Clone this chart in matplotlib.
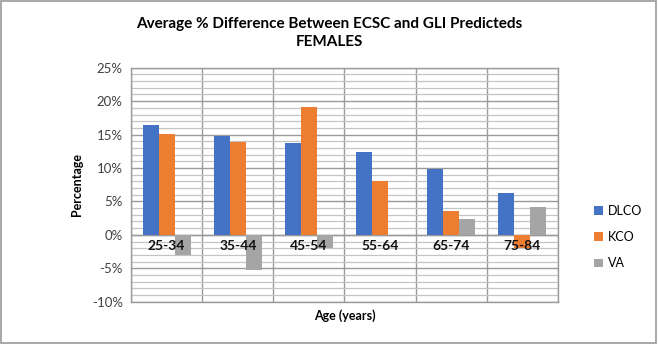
import numpy as np
import matplotlib
matplotlib.use("Agg")
import matplotlib.pyplot as plt
from matplotlib.ticker import MultipleLocator, FuncFormatter
from matplotlib.patches import Rectangle

ages = ["25-34", "35-44", "45-54", "55-64", "65-74", "75-84"]
dlco = [16.4, 14.8, 13.7, 12.4, 9.8, 6.3]
kco = [15.1, 13.9, 19.1, 8.0, 3.5, -2.0]
va = [-3.0, -5.3, -2.0, 0.0, 2.4, 4.2]

plt.rcParams['font.family'] = ['Lato', 'DejaVu Sans']

fig = plt.figure(figsize=(6.58, 3.44), dpi=100)
ax = fig.add_axes([131/658, 1-301.7/344, (558-131)/658, (301.7-67.7)/344])

x = np.arange(len(ages))
w = 0.225
ax.bar(x - w, dlco, w, color='#4472C4', label='DLCO', zorder=3)
ax.bar(x, kco, w, color='#ED7D31', label='KCO', zorder=3)
ax.bar(x + w, va, w, color='#A5A5A5', label='VA', zorder=3)

ax.set_xlim(-0.5, len(ages) - 0.5)
ax.set_ylim(-10, 25)
ax.yaxis.set_major_locator(MultipleLocator(5))
ax.yaxis.set_minor_locator(MultipleLocator(1))
ax.yaxis.set_major_formatter(FuncFormatter(lambda v, p: f"{v:.0f}%"))
ax.grid(axis='y', which='major', color='#9a9a9a', lw=1.0, zorder=1)
ax.grid(axis='y', which='minor', color='#c4c4c4', lw=0.9, zorder=1)
ax.set_xticks(np.arange(len(ages) + 1) - 0.5, minor=True)
ax.grid(axis='x', which='minor', color='#9a9a9a', lw=1.0, zorder=1)
ax.set_xticks([])
ax.tick_params(axis='y', which='both', length=0, labelsize=9.5, colors='#404040', pad=6)
ax.tick_params(axis='x', which='minor', length=0)
ax.axhline(0, color='#9a9a9a', lw=1.0, zorder=2)
for s in ax.spines.values():
    s.set_color('#9a9a9a')
    s.set_linewidth(1.0)

for i, a in enumerate(ages):
    ax.text(i, -0.7, a, ha='center', va='top', fontsize=10, fontweight='bold',
            color='#111111', zorder=4)

ax.set_ylabel("Percentage", fontsize=9, fontweight='bold', labelpad=6)
ax.set_xlabel("Age (years)", fontsize=9, fontweight='bold', labelpad=2)

fig.text(0.5, 1 - 33/344, "Average % Difference Between ECSC and GLI Predicteds\nFEMALES",
         ha='center', va='center', fontsize=11, fontweight='bold', linespacing=1.45)

fig.legend(loc='center left', bbox_to_anchor=(589/658, 1 - 237/344), frameon=False,
           fontsize=9, handlelength=0.7, handleheight=0.7, handletextpad=0.4,
           labelspacing=1.15, borderaxespad=0)

fig.patches.append(Rectangle((0.002, 0.003), 0.995, 0.994, transform=fig.transFigure,
                             fill=False, edgecolor='#9a9a9a', lw=1.2))

fig.savefig("out.png", dpi=100)
